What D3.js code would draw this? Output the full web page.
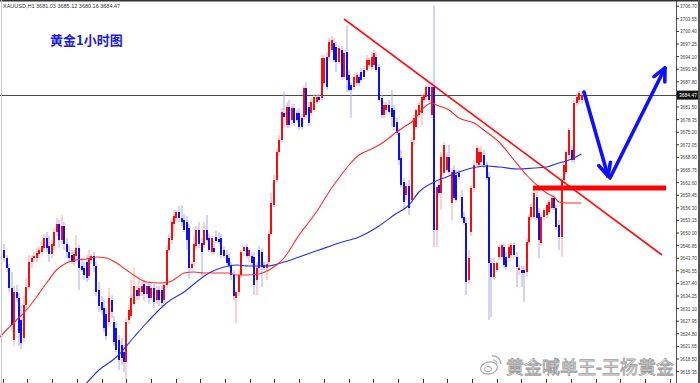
<!DOCTYPE html>
<html><head><meta charset="utf-8">
<script src="https://cdn.jsdelivr.net/npm/d3@7"></script>
<style>html,body{margin:0;padding:0;background:#fff;overflow:hidden}svg{display:block}</style>
</head><body><svg id="c" width="700" height="383"></svg>
<script>
// ---------- data ----------
const symbolHeader = "XAUUSD,H1  3681.03 3685.12 3680.16 3684.47";
const titleText = "黄金1小时图";
const watermarkText = "黄金喊单王-王杨黄金";
const currentPrice = 3684.47;
const priceTickLabels = [3706.70,3703.55,3700.40,3697.25,3694.10,3690.95,3687.80,3684.65,3681.50,3678.35,
  3675.20,3672.05,3668.90,3665.75,3662.60,3659.45,3656.30,3653.15,3650.00,3646.85,3643.70,3640.55,
  3637.40,3634.25,3631.10,3627.95,3624.80,3621.65,3618.50,3615.35];

// hourly candles [open, high, low, close]
const candles = [
[3645.75,3647.25,3642.75,3643.75],[3643.75,3644.5,3640.25,3641.25],[3641.25,3642.25,3635.25,3636.25],[3636.25,3640.25,3625.5,3627.0],
[3623.25,3636.75,3621.75,3635.25],[3635.25,3637.0,3632.75,3633.75],[3633.75,3635.0,3621.75,3625.0],[3628.25,3632.0,3621.0,3622.5],
[3623.75,3634.25,3622.75,3632.0],[3632.0,3638.75,3630.75,3636.5],[3636.5,3644.5,3635.75,3642.75],[3642.75,3644.5,3641.25,3643.75],
[3643.75,3645.25,3642.75,3644.25],[3643.75,3646.25,3642.75,3645.0],[3644.75,3646.75,3643.75,3645.75],[3645.25,3648.25,3644.25,3646.75],
[3646.25,3649.75,3645.75,3648.75],[3648.75,3650.25,3645.25,3646.25],[3646.75,3649.25,3642.75,3644.75],[3644.75,3648.25,3643.75,3647.25],
[3646.75,3651.25,3645.75,3650.25],[3650.25,3653.75,3649.25,3652.25],[3652.25,3653.25,3646.25,3648.25],[3648.25,3654.5,3647.25,3651.75],
[3651.75,3652.75,3645.75,3647.25],[3647.25,3648.75,3643.75,3645.25],[3645.25,3646.75,3642.75,3643.75],[3644.5,3645.75,3642.25,3642.75],
[3642.75,3645.75,3641.75,3644.75],[3644.25,3649.5,3643.25,3646.25],[3646.25,3647.0,3635.75,3641.25],[3641.75,3643.25,3640.25,3640.75],
[3641.25,3642.75,3638.25,3639.5],[3642.75,3644.5,3637.75,3638.75],[3639.25,3645.75,3638.25,3643.75],[3643.25,3644.75,3642.25,3644.25],
[3644.25,3645.25,3640.25,3641.75],[3641.75,3642.75,3634.25,3635.25],[3635.75,3637.75,3630.25,3631.75],[3632.75,3634.25,3629.75,3630.75],
[3631.25,3633.25,3625.25,3626.25],[3629.75,3631.25,3623.25,3624.25],[3627.75,3636.25,3626.75,3633.75],[3633.25,3634.5,3628.75,3630.25],
[3627.75,3629.25,3621.75,3622.75],[3626.25,3627.75,3620.25,3620.75],[3623.25,3624.5,3615.75,3618.25],[3622.0,3623.75,3617.0,3618.75],
[3620.25,3622.0,3615.25,3617.75],[3617.75,3628.75,3613.5,3627.75],[3628.25,3632.0,3627.25,3630.75],[3629.25,3638.25,3628.75,3633.75],
[3632.25,3641.25,3631.75,3636.75],[3635.75,3636.75,3633.25,3634.25],[3634.25,3638.25,3633.25,3636.25],[3635.25,3637.75,3634.25,3636.75],
[3637.25,3638.25,3633.25,3634.75],[3634.75,3637.75,3633.75,3636.75],[3636.75,3637.75,3632.25,3633.75],[3633.75,3637.25,3633.25,3636.25],
[3636.25,3637.25,3631.25,3632.75],[3633.25,3636.75,3632.25,3635.75],[3635.75,3636.75,3631.75,3633.25],[3635.75,3636.75,3631.25,3632.5],
[3633.25,3637.75,3632.25,3637.0],[3637.0,3647.0,3636.25,3645.75],[3645.75,3649.75,3645.25,3648.75],[3648.25,3653.75,3647.25,3652.75],
[3652.25,3655.75,3649.25,3654.25],[3653.75,3655.75,3652.75,3655.25],[3655.25,3656.75,3652.75,3653.75],[3653.75,3657.0,3651.75,3652.75],
[3653.25,3654.75,3650.25,3650.75],[3652.75,3654.25,3645.75,3648.25],[3651.25,3652.25,3638.5,3641.25],[3641.25,3642.75,3640.75,3642.25],
[3642.75,3649.25,3641.75,3647.25],[3646.75,3651.75,3645.75,3650.75],[3650.75,3652.75,3646.25,3647.25],[3647.5,3648.75,3639.25,3645.25],
[3647.0,3652.75,3646.25,3650.75],[3650.75,3654.5,3647.75,3648.25],[3648.75,3649.75,3645.25,3645.75],[3645.25,3649.25,3644.75,3648.75],
[3646.25,3647.25,3644.75,3645.25],[3649.0,3650.75,3647.5,3648.0],[3648.5,3650.25,3647.25,3647.75],[3648.75,3649.75,3643.75,3644.5],
[3645.75,3646.75,3643.75,3644.25],[3644.5,3645.75,3642.0,3642.5],[3643.75,3644.75,3641.25,3641.75],[3642.0,3642.75,3638.25,3639.5],
[3639.5,3640.75,3633.25,3634.25],[3633.75,3635.75,3627.5,3635.25],[3635.25,3640.75,3634.25,3639.5],[3639.5,3645.75,3638.75,3645.25],
[3645.5,3647.0,3644.25,3646.5],[3646.5,3647.25,3643.75,3644.25],[3644.25,3646.25,3642.75,3645.75],[3644.25,3645.0,3641.75,3642.5],
[3644.0,3645.25,3634.5,3637.0],[3638.25,3642.75,3634.5,3641.25],[3645.75,3646.75,3640.25,3641.25],[3645.25,3646.25,3636.5,3641.5],
[3642.0,3642.75,3640.75,3641.25],[3641.25,3642.75,3638.25,3642.25],[3642.75,3650.75,3642.25,3649.75],[3649.75,3660.0,3649.25,3657.5],
[3657.0,3664.5,3656.5,3663.25],[3663.25,3671.25,3662.5,3670.25],[3670.25,3674.5,3669.25,3673.25],[3673.25,3681.25,3672.5,3680.25],
[3680.0,3685.25,3676.25,3679.0],[3677.0,3682.75,3676.25,3681.5],[3681.5,3683.25,3676.25,3677.0],[3678.25,3682.25,3677.25,3681.25],
[3681.25,3682.25,3676.75,3677.5],[3680.0,3680.75,3677.75,3678.25],[3680.0,3681.25,3675.75,3676.5],[3678.75,3679.75,3676.0,3676.5],
[3679.0,3686.75,3678.25,3686.25],[3686.25,3687.75,3678.75,3679.5],[3681.5,3682.75,3676.75,3677.5],[3680.0,3683.75,3679.25,3682.75],
[3680.75,3684.75,3680.25,3684.0],[3682.75,3684.5,3682.25,3684.0],[3684.0,3684.75,3682.75,3683.25],[3683.75,3694.5,3683.25,3693.75],
[3687.5,3694.5,3687.0,3693.75],[3694.0,3695.25,3685.75,3686.5],[3694.0,3698.75,3693.25,3697.75],[3695.75,3699.25,3695.25,3698.25],
[3697.5,3698.75,3692.75,3693.25],[3696.5,3697.75,3690.25,3692.75],[3692.75,3697.0,3692.25,3696.25],[3695.75,3696.75,3688.25,3689.0],
[3689.0,3695.75,3688.5,3695.0],[3695.25,3702.0,3685.25,3688.25],[3689.5,3690.75,3685.25,3685.75],[3687.0,3687.75,3678.75,3685.75],
[3686.5,3689.75,3685.75,3689.0],[3687.5,3690.25,3686.75,3689.5],[3689.0,3689.75,3686.75,3687.5],[3690.25,3691.25,3687.75,3688.25],
[3690.75,3691.75,3688.25,3689.0],[3690.75,3694.5,3690.25,3693.25],[3692.0,3693.75,3691.25,3693.25],[3691.5,3695.25,3690.75,3694.0],
[3692.0,3695.75,3691.25,3695.0],[3694.0,3695.25,3690.25,3690.75],[3691.5,3692.25,3682.75,3683.25],[3683.75,3684.5,3678.75,3679.5],
[3679.5,3682.75,3678.75,3682.0],[3680.75,3682.75,3679.75,3682.0],[3682.0,3683.25,3679.75,3680.25],[3681.25,3685.75,3676.5,3679.0],
[3680.75,3682.0,3675.75,3676.5],[3677.75,3678.75,3674.5,3675.0],[3675.0,3676.25,3667.0,3668.25],[3668.75,3670.75,3661.25,3662.0],
[3662.75,3663.75,3655.75,3657.75],[3659.5,3662.5,3658.25,3661.75],[3661.75,3663.25,3654.5,3656.25],[3658.25,3673.75,3657.5,3672.75],
[3673.25,3679.5,3672.0,3678.75],[3676.5,3681.25,3675.75,3680.75],[3679.5,3682.75,3678.75,3682.0],[3680.0,3684.5,3677.0,3684.0],
[3683.25,3685.25,3682.5,3684.5],[3684.0,3687.25,3683.25,3686.5],[3686.5,3687.75,3682.75,3683.25],[3679.5,3687.75,3678.75,3686.5],
[3686.5,3707.0,3646.5,3650.75],[3650.75,3662.0,3646.5,3661.5],[3662.0,3663.25,3659.5,3660.0],[3660.0,3670.25,3655.75,3669.0],
[3665.0,3672.75,3664.25,3672.0],[3665.75,3670.25,3665.25,3669.0],[3669.0,3672.0,3664.75,3665.25],[3657.5,3666.25,3653.25,3665.25],
[3665.75,3667.0,3658.25,3658.75],[3664.5,3665.75,3657.75,3658.25],[3665.0,3665.75,3663.25,3664.0],[3659.0,3660.75,3653.25,3653.75],
[3654.0,3655.25,3652.0,3652.5],[3652.5,3653.75,3634.5,3637.75],[3638.25,3645.75,3637.25,3643.75],[3650.25,3662.0,3649.25,3661.25],
[3661.25,3668.25,3660.25,3667.0],[3667.5,3672.0,3666.75,3671.25],[3667.0,3671.25,3666.25,3670.25],[3667.75,3671.75,3667.0,3670.25],
[3669.5,3670.75,3666.25,3667.0],[3667.0,3667.75,3663.25,3663.75],[3664.0,3665.25,3628.25,3642.5],[3642.5,3643.75,3629.0,3639.0],
[3639.0,3643.75,3638.25,3642.5],[3640.75,3642.75,3640.25,3642.5],[3644.0,3647.0,3643.25,3646.5],[3644.0,3647.25,3643.25,3647.0],
[3646.5,3647.25,3641.25,3642.0],[3644.0,3645.25,3640.75,3641.5],[3643.75,3647.25,3642.75,3646.5],[3644.5,3647.75,3643.75,3647.0],
[3647.0,3647.75,3643.75,3644.5],[3644.0,3645.25,3636.5,3641.5],[3640.75,3642.0,3639.5,3641.25],[3640.75,3641.75,3636.5,3640.0],
[3640.75,3641.75,3632.75,3640.0],[3640.25,3648.75,3639.25,3647.75],[3647.75,3654.75,3647.0,3654.0],[3654.0,3657.25,3653.25,3656.5],
[3654.0,3660.75,3653.5,3660.0],[3659.0,3660.25,3653.25,3653.75],[3655.0,3656.25,3643.75,3648.25],[3647.5,3654.5,3646.75,3654.0],
[3654.0,3656.25,3653.25,3655.75],[3654.5,3657.75,3653.75,3657.0],[3655.25,3658.25,3654.75,3657.75],[3656.25,3659.5,3655.75,3658.75],
[3658.75,3659.5,3655.75,3656.25],[3656.25,3657.0,3650.75,3651.5],[3652.0,3653.25,3645.75,3649.0],[3649.0,3663.75,3644.0,3663.25],
[3663.25,3667.75,3662.5,3667.0],[3665.25,3670.75,3664.5,3670.25],[3669.5,3676.25,3668.75,3675.75],[3670.75,3671.75,3667.75,3668.25],
[3668.25,3683.25,3667.5,3682.5],[3682.5,3684.75,3681.75,3684.0],[3683.25,3685.75,3682.25,3685.0],[3683.25,3685.5,3682.25,3684.47]
];

// moving averages: [bar index, price]
const maRed = [[-2,3623.75],[1,3625.75],[5,3628.25],[9,3630.75],[13,3634.0],[17,3637.5],[21,3640.75],[25,3642.5],[29,3643.25],
 [33,3643.5],[37,3644.0],[41,3643.75],[45,3642.5],[49,3640.75],[53,3639.0],[57,3637.75],[62,3637.5],[66,3637.75],[69,3638.75],
 [72,3640.0],[76,3640.25],[80,3640.0],[85,3640.0],[90,3640.0],[93,3639.5],[98,3639.5],[102,3639.75],[106,3640.75],[109,3642.0],
 [112,3643.75],[116,3647.5],[118,3649.5],[122,3652.75],[126,3656.25],[130,3660.25],[134,3663.75],[138,3667.0],[142,3669.5],
 [146,3670.75],[150,3672.0],[153,3673.25],[157,3675.25],[160,3676.5],[164,3678.25],[167,3680.75],[171,3682.5],[173,3682.0],
 [178,3680.75],[182,3678.75],[188,3677.5],[193,3675.25],[198,3672.75],[204,3668.25],[209,3664.5],[214,3661.5],[217,3660.0],
 [220,3659.0],[222,3657.75],[225,3657.5],[231,3657.5]];
const maBlue = [[31,3611.0],[38,3615.75],[45,3619.0],[52,3624.0],[57,3627.5],[62,3630.75],[65,3632.5],[72,3635.25],[78,3638.25],
 [82,3640.0],[88,3641.5],[93,3642.0],[98,3641.75],[105,3641.75],[112,3642.75],[118,3644.0],[126,3645.75],[134,3647.5],
 [142,3649.0],[150,3651.75],[156,3654.5],[162,3657.0],[166,3660.25],[172,3662.75],[177,3664.0],[182,3665.25],[189,3666.5],
 [193,3666.75],[198,3666.5],[206,3666.0],[212,3666.25],[217,3666.5],[222,3667.5],[226,3668.25],[231,3669.75]];

// drawn annotations: [bar index, price]
const trendLine = [[136,3703.5],[263.2,3644.5]];
const supportLine = [[211.6,3661.25],[264.8,3661.25]];
const arrowDown = [[232,3685.25],[241.6,3664.25]];
const arrowUp = [[242.4,3663.75],[264.4,3691.25]];

// ---------- drawing ----------
const W = 700, H = 383, axisX = 676;
const svg = d3.select("#c");
const x = d3.scaleLinear().domain([0, 268.8]).range([4, axisX]);
const y = d3.scaleLinear().domain([3708.25, 3612.5]).range([0, H]);

svg.append("rect").attr("width", W).attr("height", H).attr("fill", "#fff");
svg.append("defs").append("clipPath").attr("id", "plot")
  .append("rect").attr("x", 0).attr("y", 0).attr("width", axisX).attr("height", H);
const g = svg.append("g").attr("clip-path", "url(#plot)");

// current price line
g.append("line").attr("x1", 0).attr("x2", axisX)
  .attr("y1", Math.round(y(currentPrice)) + 0.5).attr("y2", Math.round(y(currentPrice)) + 0.5)
  .attr("stroke", "#4a4a4a").attr("stroke-width", 1);

// candles
const cg = g.append("g");
candles.forEach((d, i) => {
  const [o, h, l, c] = d;
  const up = c >= o;
  const cx = Math.round(x(i));
  cg.append("rect").attr("x", cx - 0.5).attr("width", 1)
    .attr("y", y(h)).attr("height", Math.max(1, y(l) - y(h)))
    .attr("fill", up ? "#f7a3a3" : "#a9a9f5");
  const top = y(Math.max(o, c)), bot = y(Math.min(o, c));
  cg.append("rect").attr("x", cx - 1).attr("width", 2)
    .attr("y", top).attr("height", Math.max(1.2, bot - top))
    .attr("fill", up ? "#f01010" : "#1010ee");
});

// moving averages
const ln = d3.line().x(d => x(d[0])).y(d => y(d[1])).curve(d3.curveMonotoneX);
g.append("path").attr("d", ln(maBlue)).attr("fill", "none").attr("stroke", "#2430e8").attr("stroke-width", 1.1);
g.append("path").attr("d", ln(maRed)).attr("fill", "none").attr("stroke", "#ff2a2a").attr("stroke-width", 1.1);

// annotations
const straight = d3.line().x(d => x(d[0])).y(d => y(d[1]));
g.append("path").attr("d", straight(trendLine)).attr("stroke", "#ff1010").attr("stroke-width", 1.6).attr("fill", "none");
g.append("path").attr("d", straight(supportLine)).attr("stroke", "#ff0000").attr("stroke-width", 5).attr("fill", "none");

function arrow(pts) {
  const [a, b] = pts.map(p => [x(p[0]), y(p[1])]);
  svg.append("line").attr("x1", a[0]).attr("y1", a[1]).attr("x2", b[0]).attr("y2", b[1])
    .attr("stroke", "#0f0fff").attr("stroke-width", 3.6).attr("stroke-linecap", "round");
  const ang = Math.atan2(b[1] - a[1], b[0] - a[0]);
  const L = 14;
  [-0.45, 0.45].forEach(da => {
    const t = ang + Math.PI + da;
    svg.append("line").attr("x1", b[0]).attr("y1", b[1])
      .attr("x2", b[0] + L * Math.cos(t)).attr("y2", b[1] + L * Math.sin(t))
      .attr("stroke", "#0f0fff").attr("stroke-width", 3.6).attr("stroke-linecap", "round");
  });
}
arrow(arrowDown);
arrow(arrowUp);

// right price axis
svg.append("line").attr("x1", axisX + 0.5).attr("x2", axisX + 0.5).attr("y1", 0).attr("y2", H)
  .attr("stroke", "#555").attr("stroke-width", 1);
const curY = y(currentPrice);
priceTickLabels.forEach(v => {
  const ty = y(v);
  svg.append("line").attr("x1", axisX).attr("x2", axisX + 3).attr("y1", ty).attr("y2", ty)
    .attr("stroke", "#333").attr("stroke-width", 1);
  if (Math.abs(ty - curY) < 6) return;
  svg.append("text").attr("x", axisX + 4).attr("y", ty + 2)
    .attr("font-family", "Liberation Sans, Arial, sans-serif").attr("font-size", 5.6)
    .attr("textLength", 17).attr("lengthAdjust", "spacingAndGlyphs")
    .attr("fill", "#444").text(v.toFixed(2));
});
svg.append("rect").attr("x", axisX + 1).attr("y", curY - 4.5).attr("width", 22).attr("height", 9).attr("fill", "#111");
svg.append("text").attr("x", axisX + 3).attr("y", curY + 2.2)
  .attr("font-family", "Liberation Sans, Arial, sans-serif").attr("font-size", 5.6)
  .attr("textLength", 18).attr("lengthAdjust", "spacingAndGlyphs")
  .attr("fill", "#fff").text(currentPrice.toFixed(2));

// bottom time ticks
d3.range(0, 28).forEach(k => {
  const tx = Math.round(2.7 + k * 24.7) + 0.5;
  if (tx > axisX) return;
  svg.append("line").attr("x1", tx).attr("x2", tx).attr("y1", H - 4).attr("y2", H)
    .attr("stroke", "#333").attr("stroke-width", 1);
});

// frame
svg.append("rect").attr("x", 0).attr("y", 0).attr("width", W).attr("height", 1.5).attr("fill", "#333");
svg.append("rect").attr("x", W - 2).attr("y", 0).attr("width", 2).attr("height", H).attr("fill", "#555");
svg.append("line").attr("x1", 1.5).attr("x2", 1.5).attr("y1", 0).attr("y2", H).attr("stroke", "#c8c8c8");

// header & title
svg.append("text").attr("x", 3).attr("y", 7.5).attr("font-family", "Liberation Sans, Arial, sans-serif")
  .attr("font-size", 5.5).attr("fill", "#333").text(symbolHeader);
svg.append("text").attr("x", 50).attr("y", 45).attr("font-family", "Noto Sans CJK SC, sans-serif")
  .attr("font-weight", "bold").attr("font-size", 13).attr("fill", "#1c1cd6").text(titleText);

// watermark (kept left of the price axis labels)
const wm = svg.append("g");
const lx = 489, ly = 368;
wm.append("ellipse").attr("cx", lx).attr("cy", ly).attr("rx", 8.5).attr("ry", 6)
  .attr("transform", `rotate(-12 ${lx} ${ly})`).attr("fill", "#fff").attr("stroke", "#a8a8a8").attr("stroke-width", 1.2);
wm.append("ellipse").attr("cx", lx - 1).attr("cy", ly + 1).attr("rx", 3.5).attr("ry", 2.6)
  .attr("fill", "none").attr("stroke", "#a8a8a8").attr("stroke-width", 1);
wm.append("path").attr("d", `M${lx+3},${ly-12} A8,8 0 0 1 ${lx+12},${ly-4}`).attr("fill", "none").attr("stroke", "#a8a8a8").attr("stroke-width", 1.3);
wm.append("path").attr("d", `M${lx+4},${ly-8} A4,4 0 0 1 ${lx+8},${ly-4}`).attr("fill", "none").attr("stroke", "#a8a8a8").attr("stroke-width", 1.1);
wm.append("text").attr("x", 506).attr("y", 374).attr("font-family", "Noto Sans CJK SC, sans-serif")
  .attr("font-size", 18).attr("textLength", 168).attr("lengthAdjust", "spacingAndGlyphs")
  .attr("fill", "#fff").attr("stroke", "#9c9c9c").attr("stroke-width", 0.8).text(watermarkText);
</script>
</body></html>
